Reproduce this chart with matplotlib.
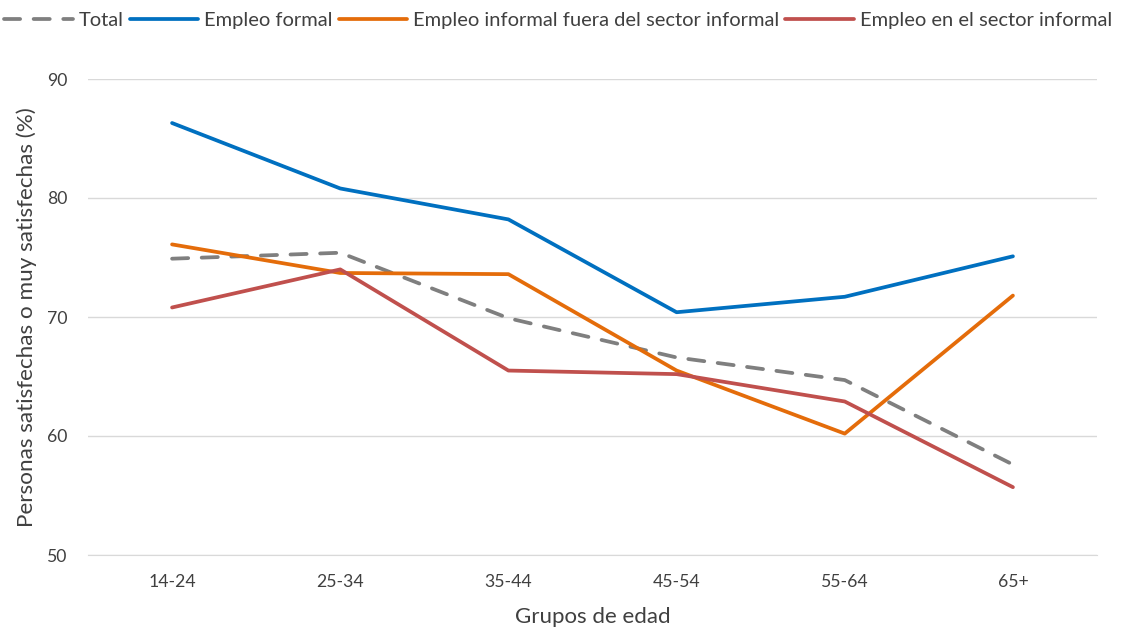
import matplotlib
matplotlib.use("Agg")
import matplotlib.pyplot as plt

plt.rcParams['font.family'] = ['Lato', 'DejaVu Sans']

# datos
grupos = ["14-24", "25-34", "35-44", "45-54", "55-64", "65+"]
total = [74.9, 75.4, 69.9, 66.6, 64.7, 57.6]
formal = [86.3, 80.8, 78.2, 70.4, 71.7, 75.1]
informal_fuera = [76.1, 73.7, 73.6, 65.5, 60.2, 71.8]
sector_informal = [70.8, 74.0, 65.5, 65.2, 62.9, 55.7]

fig = plt.figure(figsize=(11.23, 6.32), dpi=100)
ax = fig.add_axes([88/1123, (632-555)/632, (1097-88)/1123, (555-79)/632])

x = range(len(grupos))
lw = 2.7
ax.plot(x, total, color="#7F7F7F", lw=lw, ls=(0, (4.3, 3.6)), dash_capstyle="round",
        label="Total")
ax.plot(x, formal, color="#0070C0", lw=lw, solid_capstyle="round", label="Empleo formal")
ax.plot(x, informal_fuera, color="#E46C0A", lw=lw, solid_capstyle="round",
        label="Empleo informal fuera del sector informal")
ax.plot(x, sector_informal, color="#C0504D", lw=lw, solid_capstyle="round",
        label="Empleo en el sector informal")

ax.set_xlim(-0.5, 5.5)
ax.set_ylim(50, 90)
ax.set_yticks([50, 60, 70, 80, 90])
ax.set_xticks(list(x))
ax.set_xticklabels(grupos)
ax.grid(axis="y", color="#D9D9D9", lw=1)
ax.set_axisbelow(True)
for s in ["top", "right", "left"]:
    ax.spines[s].set_visible(False)
ax.spines["bottom"].set_color("#D9D9D9")
ax.tick_params(length=0, labelsize=12.7, colors="#404040")
ax.tick_params(axis="x", pad=14)
ax.tick_params(axis="y", pad=15)

ax.set_xlabel("Grupos de edad", fontsize=16, color="#404040", labelpad=12)
ax.set_ylabel("Personas satisfechas o muy satisfechas (%)", fontsize=16.2, color="#404040",
              labelpad=7)

leg = fig.legend(loc="upper center", bbox_to_anchor=(0.497, 1.01), ncol=4, frameon=False,
                 fontsize=14.5, handlelength=3.4, handletextpad=0.3, columnspacing=0.3)
for t in leg.get_texts():
    t.set_color("#404040")

fig.savefig("out.png", dpi=100)
